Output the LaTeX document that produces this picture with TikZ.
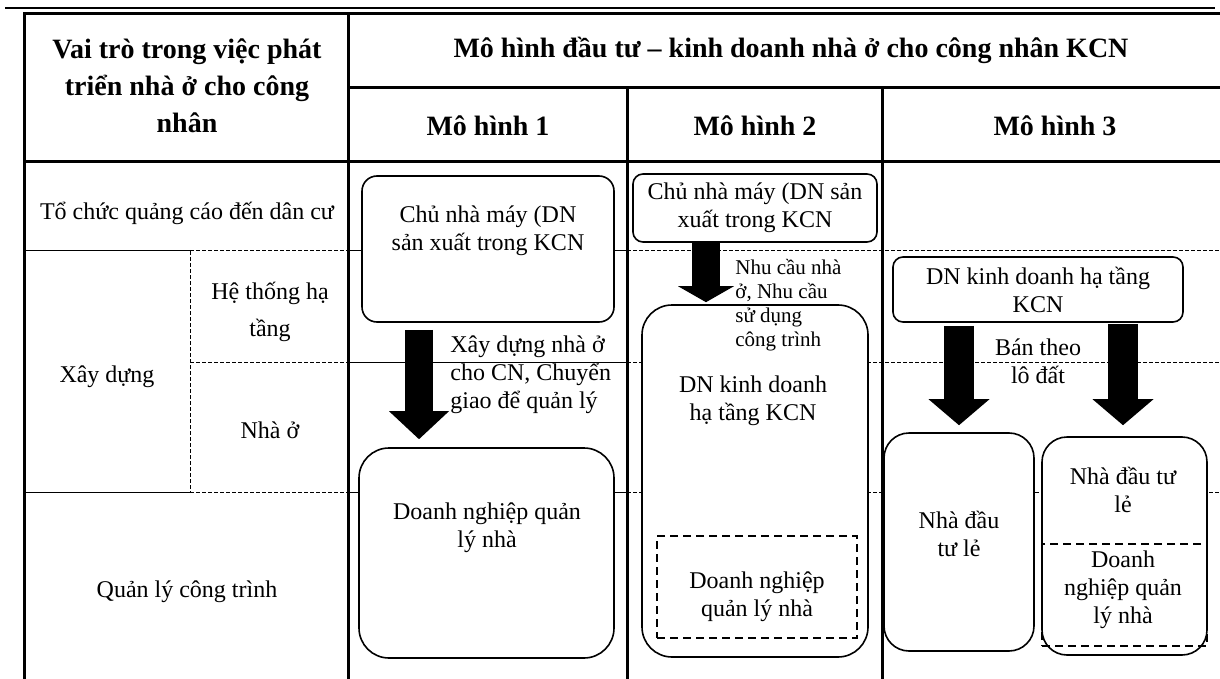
\documentclass[tikz,border=0pt]{standalone}
\usepackage{fontspec}
\setmainfont{Liberation Serif}
\usetikzlibrary{arrows.meta,positioning}

\tikzset{
  thickrule/.style={line width=1.5pt},
  thinrule/.style={line width=0.5pt},
  dashrule/.style={line width=0.5pt, dash pattern=on 2pt off 1pt},
  box/.style={draw, line width=0.8pt, fill=white, rounded corners=#1, inner sep=0pt},
  dashbox/.style={draw, line width=0.7pt, dash pattern=on 4pt off 2.5pt, inner sep=0pt},
  txt/.style={font=\fontsize{12pt}{14pt}\selectfont, align=center, inner sep=0pt},
  head/.style={font=\fontsize{14pt}{18.5pt}\selectfont\bfseries, align=center, inner sep=0pt},
  note/.style={font=\fontsize{10.5pt}{12pt}\selectfont, align=left, inner sep=0pt},
  fatarrow/.style n args={3}{line width=#1, -{Triangle[width=#2,length=#3,line width=0pt]}},
}

\begin{document}
\begin{tikzpicture}[x=0.5pt, y=-0.5pt]
      \useasboundingbox (0,0) rectangle (1220,679);
      % table frame
      \draw[line width=1pt] (5,8) -- (1215,8);
      \draw[thickrule] (24,679) -- (24,14) -- (1220,14);
      \draw[thickrule] (348,14) -- (348,679)
                       (348,88) -- (1220,88)
                       (24,162) -- (1220,162)
                       (627,88) -- (627,679)
                       (882,88) -- (882,679);
      % row rules
      \draw[thinrule] (24,251) -- (190,251)
                      (24,492) -- (190,492)
                      (348,251) -- (627,251)
                      (348,362) -- (627,362)
                      (348,492) -- (627,492);
      \draw[dashrule] (190,251) -- (348,251)
                      (190,362) -- (348,362)
                      (190,492) -- (348,492)
                      (190,251) -- (190,492)
                      (627,251) -- (1220,251)
                      (627,362) -- (1220,362)
                      (627,492) -- (1220,492);

      % headings
      \node[head] (role) at (187,86) {Vai trò trong việc phát\\triển nhà ở cho công\\nhân};
      \node[head] (models) at (791,50) {Mô hình đầu tư – kinh doanh nhà ở cho công nhân KCN};
      \node[head] (mh1) at (488,126) {Mô hình 1};
      \node[head] (mh2) at (755,126) {Mô hình 2};
      \node[head] (mh3) at (1055,126) {Mô hình 3};

      % roles
      \node[txt] (ads) at (187,213) {Tổ chức quảng cáo đến dân cư};
      \node[txt] (build) at (107,377) {Xây dựng};
      \node[txt, font=\fontsize{12pt}{18.5pt}\selectfont] (infra) at (270,312) {Hệ thống hạ\\tầng};
      \node[txt] (house) at (270,430) {Nhà ở};
      \node[txt] (manage) at (187,592) {Quản lý công trình};

      % model 1
      \node[box=7.5pt, minimum width=126pt, minimum height=73pt] (m1top) at (488,249) {};
      \node[txt] (m1toptext) at (488,231) {Chủ nhà máy (DN\\sản xuất trong KCN};
      \node[box=15pt, minimum width=127.5pt, minimum height=105pt] (m1bot) at (486.5,553) {};
      \node[txt] (m1bottext) at (487,528) {Doanh nghiệp quản\\lý nhà};
      \coordinate (a1) at (419,0);
      \draw[fatarrow={14pt}{30pt}{14pt}, shorten <=3.5pt, shorten >=4pt]
            (m1top.south -| a1) -- (m1bot.north -| a1);
      \node[txt, align=left, anchor=west] (m1note) at (450,375) {Xây dựng nhà ở\\cho CN, Chuyển\\giao để quản lý};

      % model 2
      \node[box=5pt, txt, minimum width=122pt, minimum height=34pt] (m2top) at (755,208) {Chủ nhà máy (DN sản\\xuất trong KCN};
      \node[box=15pt, minimum width=113pt, minimum height=176pt] (m2big) at (755,481) {};
      \node[txt] (m2bigtext) at (753,401) {DN kinh doanh\\hạ tầng KCN};
      \node[dashbox, minimum width=100pt, minimum height=51pt] (m2in) at (757,587) {};
      \node[txt] (m2intext) at (757,597) {Doanh nghiệp\\quản lý nhà};
      \coordinate (a2) at (706,0);
      \draw[fatarrow={14pt}{28pt}{8pt}, shorten >=1pt]
            (m2top.south -| a2) -- (m2big.north -| a2);
      \node[note, anchor=west] (m2note) at (735,305) {Nhu cầu nhà\\ở, Nhu cầu\\sử dụng\\công trình};

      % model 3
      \node[box=5pt, txt, minimum width=145pt, minimum height=32.5pt] (m3top) at (1038,289.5) {DN kinh doanh hạ tầng\\KCN};
      \node[box=12.5pt, minimum width=75pt, minimum height=109pt] (m3left) at (959,542) {};
      \node[txt] (m3lefttext) at (959,534) {Nhà đầu\\tư lẻ};
      \node[box=12.5pt, minimum width=82.5pt, minimum height=109pt] (m3right) at (1124.5,546) {};
      \node[dashbox, minimum width=82.5pt, minimum height=51pt] (m3in) at (1124.5,595) {};
      \node[txt] (m3righttext) at (1123,490) {Nhà đầu tư\\lẻ};
      \node[txt] (m3intext) at (1123,590) {Doanh\\nghiệp quản\\lý nhà};
      \coordinate (a3) at (959,0);
      \coordinate (b3) at (1123,0);
      \draw[fatarrow={15pt}{30.5pt}{13pt}, shorten <=1.5pt, shorten >=3.5pt]
            (m3top.south -| a3) -- (m3left.north -| a3);
      \draw[fatarrow={15pt}{30.5pt}{13pt}, shorten <=0.5pt, shorten >=5.5pt]
            (m3top.south -| b3) -- (m3right.north -| b3);
      \node[txt] (m3note) at (1038,361) {Bán theo\\lô đất};
\end{tikzpicture}
\end{document}
